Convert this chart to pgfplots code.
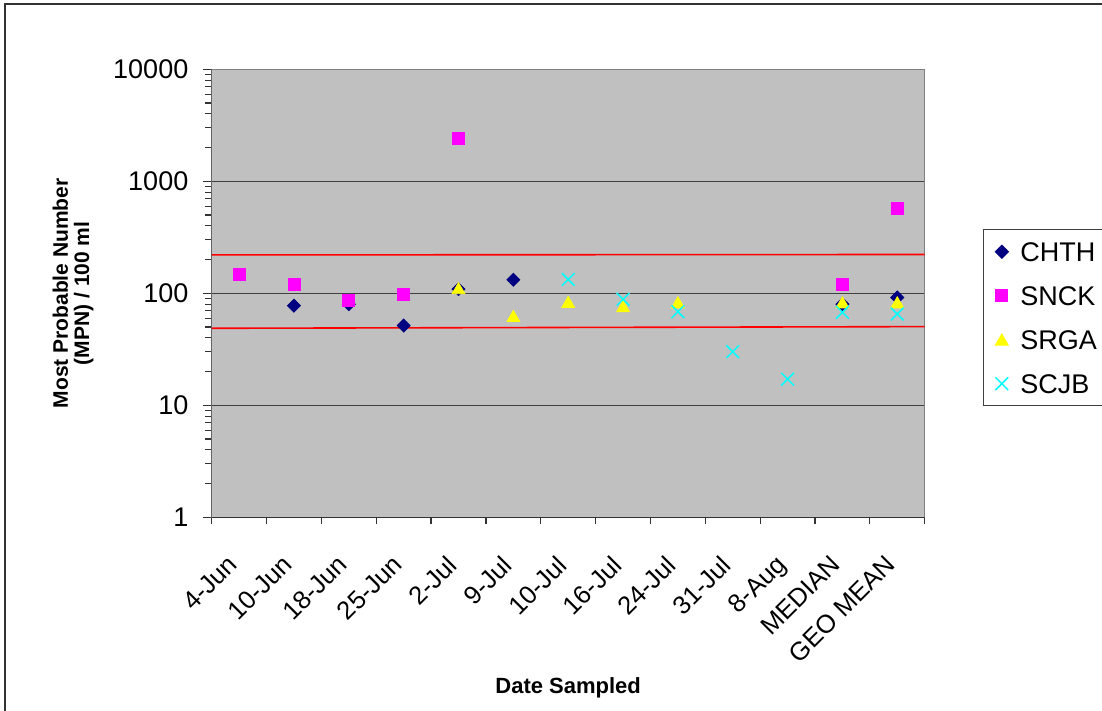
\documentclass[border=0pt]{standalone}
\usepackage{fontspec}
\setmainfont{Liberation Sans}
\usepackage{pgfplots}
\pgfplotsset{compat=1.18}
\definecolor{navyc}{HTML}{000080}
\definecolor{magc}{HTML}{FF00FF}
\definecolor{yelc}{HTML}{FFFF00}
\definecolor{cyac}{HTML}{00FFFF}
\definecolor{plotgray}{HTML}{C0C0C0}
\definecolor{gridgray}{HTML}{404040}
\definecolor{edgegray}{HTML}{808080}
\pgfplotsset{lgimg/.style={legend image code/.code={\path[draw=none, fill=none] (0pt,0pt) -- (12pt,0pt); \draw[##1] plot coordinates {(6pt,0pt)};}}}
\begin{document}
\begin{tikzpicture}
\path[use as bounding box] (0,0) rectangle (551pt,355.5pt);
\begin{scope}
\clip (0,0) rectangle (551pt,355.5pt);
\draw[line width=0.75pt, color=black!80] (2.5pt,-10pt) -- (2.5pt,353.5pt) -- (600pt,353.5pt);
\end{scope}
\begin{axis}[
  at={(105.85pt,96.85pt)}, anchor=south west,
  scale only axis, width=356.5pt, height=224pt,
  ymode=log, ymin=1, ymax=10000,
  xmin=-0.5, xmax=12.5,
  ytick={1,10,100,1000,10000},
  yticklabels={1,10,100,1000,10000},
  minor ytick={2,3,4,5,6,7,8,9,20,30,40,50,60,70,80,90,200,300,400,500,600,700,800,900,2000,3000,4000,5000,6000,7000,8000,9000},
  xtick={0,1,2,3,4,5,6,7,8,9,10,11,12},
  xticklabels={4-Jun,10-Jun,18-Jun,25-Jun,2-Jul,9-Jul,10-Jul,16-Jul,24-Jul,31-Jul,8-Aug,MEDIAN,GEO MEAN},
  minor xtick={-0.5,0.5,1.5,2.5,3.5,4.5,5.5,6.5,7.5,8.5,9.5,10.5,11.5,12.5},
  tick align=outside, tick pos=left,
  major tick length=4.5pt, minor tick length=3.2pt,
  tick style={draw=black!80, line width=0.6pt},
  major x tick style={draw=none},
  ymajorgrids, major grid style={draw=gridgray, line width=0.6pt},
  axis background/.style={fill=plotgray},
  axis line style={draw=edgegray, line width=0.6pt},
  /pgf/number format/assume math mode=true,
  yticklabel style={font=\fontsize{13.5}{16}\selectfont, anchor=east, inner sep=0pt, xshift=-7pt},
  xticklabel style={font=\fontsize{12.8}{15}\selectfont, inner sep=0pt, xshift=-6.5pt, yshift=-13.5pt, rotate=45, anchor=north east},
  xlabel={Date Sampled},
  xlabel style={font=\bfseries\fontsize{11}{13}\selectfont, at={(axis description cs:0.5,0)}, anchor=center, yshift=-85.3pt},
  ylabel={Most Probable Number\\(MPN) / 100 ml},
  ylabel style={font=\bfseries\fontsize{10.5}{10.6}\selectfont, align=center, at={(axis description cs:-0.1943,0.5)}, anchor=center},
  legend style={at={(1.0822,0.643)}, anchor=north west, draw=gridgray, line width=0.5pt, fill=white,
    font=\fontsize{13.5}{16}\selectfont, inner xsep=3pt, inner ysep=0pt, row sep=0pt, column sep=3.3pt,
    nodes={inner xsep=0pt, inner ysep=6.15pt, text height=9.7pt, text depth=0pt, anchor=west}},
  legend cell align=left,
]
\addplot[only marks, lgimg, mark=square*, mark size=2.3pt, color=navyc, mark options={rotate=45, fill=navyc, draw=navyc}]
  coordinates {(1,77.5) (2,80) (3,51.5) (4,109) (5,132) (11,80) (12,91.7)};
\addlegendentry{CHTH}
\addplot[only marks, lgimg, mark=square*, mark size=3pt, color=magc, mark options={fill=magc, draw=magc}]
  coordinates {(0,147) (1,120) (2,86.6) (3,97) (4,2400) (11,119) (12,569)};
\addlegendentry{SNCK}
\addplot[only marks, lgimg, mark=triangle*, mark size=3.7pt, color=yelc, mark options={fill=yelc, draw=yelc, yshift=-0.9pt}]
  coordinates {(4,111) (5,62.7) (6,83.6) (7,76.5) (8,83) (11,83) (12,83)};
\addlegendentry{SRGA}
\addplot[only marks, lgimg, mark=x, mark size=4.5pt, color=cyac, mark options={draw=cyac, line width=0.75pt}]
  coordinates {(6,133) (7,88.4) (8,68.5) (9,30.1) (10,17.1) (11,67.6) (12,65.3)};
\addlegendentry{SCJB}
\addplot[red, line width=0.8pt, forget plot] coordinates {(-0.5,220) (12.5,222)};
\addplot[red, line width=0.8pt, forget plot] coordinates {(-0.5,48.7) (12.5,50.4)};
\draw[black!80, line width=0.7pt] (rel axis cs:0,1) -- (rel axis cs:0,0) -- (rel axis cs:1,0);
\end{axis}
\end{tikzpicture}
\end{document}
